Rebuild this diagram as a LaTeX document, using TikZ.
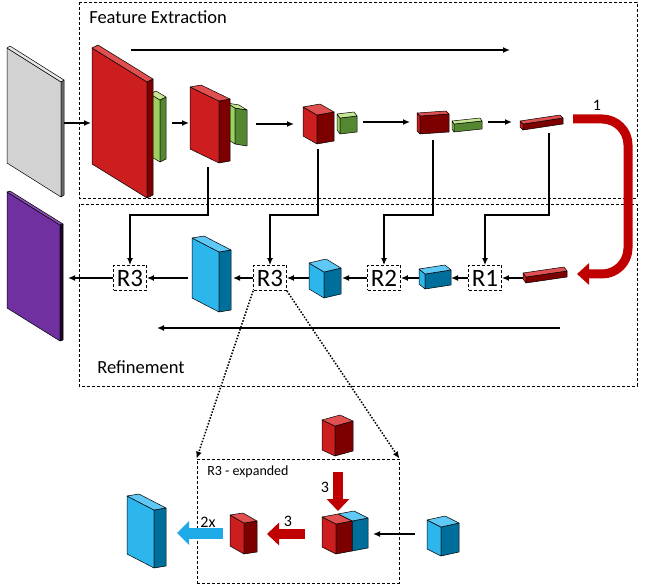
\documentclass[tikz,border=0pt]{standalone}
\usepackage{fontspec}
\setmainfont{Carlito}
\usepackage{tikz}
\usetikzlibrary{arrows.meta}

\definecolor{redb}{RGB}{204,30,30}
\definecolor{redbdk}{RGB}{125,0,0}
\definecolor{redblt}{RGB}{225,80,80}
\definecolor{grnb}{RGB}{155,210,95}
\definecolor{grnbdk}{RGB}{85,135,50}
\definecolor{grnblt}{RGB}{195,232,145}
\definecolor{blub}{RGB}{45,182,236}
\definecolor{blubdk}{RGB}{0,110,155}
\definecolor{blublt}{RGB}{95,200,245}
\definecolor{gryb}{RGB}{210,210,210}
\definecolor{grybdk}{RGB}{105,105,105}
\definecolor{gryblt}{RGB}{230,230,230}
\definecolor{purb}{RGB}{112,48,160}
\definecolor{purbdk}{RGB}{25,5,40}
\definecolor{purblt}{RGB}{140,80,185}
\definecolor{arrred}{RGB}{192,0,0}
\definecolor{arrblu}{RGB}{30,170,230}

% block: name, x, y, ux, uy, h, vx, vy, colour
\newcommand{\blk}[9]{%
  \begin{scope}[shift={(#2,#3)}]
    \filldraw[fill=#9,blkline] (0,0) -- ++(#4,#5) -- ++(0,#6) -- ++({-1*(#4)},{-1*(#5)}) -- cycle;
    \filldraw[fill=#9dk,blkline] (#4,#5) -- ++(#7,#8) -- ++(0,#6) -- ++({-1*(#7)},{-1*(#8)}) -- cycle;
    \filldraw[fill=#9lt,blkline] (0,0) -- ++(#4,#5) -- ++(#7,#8) -- ++({-1*(#4)},{-1*(#5)}) -- cycle;
    \coordinate (#1) at (0,0);
  \end{scope}}

\begin{document}
\begin{tikzpicture}[x=1pt,y=-1pt,>={Latex[length=7pt,width=6pt]},semithick]
\tikzset{blkline/.style={draw=black,line width=0.5pt,line join=round}}
\tikzset{frame/.style={draw=black,line width=0.8pt,dash pattern=on 3pt off 2pt}}
\tikzset{rbox/.style={draw=black,line width=0.8pt,dash pattern=on 3pt off 2pt,fill=white,
                      minimum width=33pt,minimum height=25pt,inner sep=0pt,font=\fontsize{25}{25}\selectfont}}
\tikzset{conn/.style={->,line width=1.5pt}}
\tikzset{fatred/.style={line width=10pt,draw=arrred,-{Triangle[length=12pt,width=22pt]}}}
\tikzset{fatblu/.style={line width=11pt,draw=arrblu,-{Triangle[length=12pt,width=23pt]}}}
\tikzset{zoomline/.style={line width=1.5pt,dash pattern=on 1.5pt off 1.6pt,-{Latex[length=7pt,width=6pt]}}}

  \useasboundingbox (0,0) rectangle (648,585);

        % frames
        \draw[frame] (79,2) rectangle (637,198);
        \draw[frame] (79,204) rectangle (637,386);
        \node[anchor=west,inner sep=3pt,font=\fontsize{18.5}{20}\selectfont] (fe) at (86,17) {Feature Extraction};
        \node[anchor=west,inner sep=3pt,font=\fontsize{18.5}{20}\selectfont] (rf) at (94,367) {Refinement};
        \node[frame,minimum width=202pt,minimum height=124pt,inner sep=0pt] (exp) at (298,521) {};
        \node[anchor=west,inner sep=3pt,font=\fontsize{14}{16}\selectfont] (rx) at (204,472) {R3 - expanded};

        % refinement units
        \node[rbox] (r3a) at (130,278) {R3};
        \node[rbox] (r3b) at (270,278) {R3};
        \node[rbox] (r2)  at (384,278) {R2};
        \node[rbox] (r1)  at (485,278) {R1};

        % feature extraction blocks
        \blk{in}{7}{48}{54}{34}{115}{3}{-2}{gryb}
        \blk{out}{7}{192}{53}{33}{116}{3}{-1}{purb}
        \blk{g1}{150}{94}{10}{6}{62}{6}{-3}{grnb}
        \blk{c1}{92}{48}{55}{34}{116}{6}{-3}{redb}
        \blk{g2}{227}{103}{8}{5}{36}{12}{2}{grnb}
        \blk{c2}{190}{87}{29}{14}{62}{11}{-2}{redb}
        \blk{c3}{303}{107}{14}{8}{29}{17}{-3}{redb}
        \blk{g3}{337}{114}{3}{4}{16}{17}{-2}{grnb}
        \blk{c4}{417}{113}{3}{3}{18}{29}{-2}{redb}
        \blk{g4}{452}{121}{2}{3}{8}{28}{-3}{grnb}
        \blk{c5}{520}{121}{3}{3}{6}{40}{-6}{redb}

        % refinement blocks
        \blk{rb}{523}{273}{3}{4}{6}{41}{-6}{redb}
        \blk{b1}{419}{269}{6}{5}{15}{26}{-4}{blub}
        \blk{b2}{309}{263}{15}{9}{26}{17}{-4}{blub}
        \blk{b3}{192}{238}{27}{14}{60}{12}{-2}{blub}

        % expanded R3 blocks
        \blk{ub}{127}{496}{27}{14}{58}{12}{-2}{blub}
        \blk{ur}{230}{515}{14}{8}{31}{13}{-2}{redb}
        \blk{cbb}{338}{514}{14}{7}{30}{16}{-3}{blub}
        \blk{cbr}{322}{517}{14}{7}{30}{16}{-3}{redb}
        \blk{ut}{322}{420}{13}{6}{30}{18}{-5}{redb}
        \blk{ui}{427}{520}{14}{7}{29}{18}{-4}{blub}

        % connector ends
        \coordinate (in-e) at (64,123);   \coordinate (c1-w) at (91,123);
        \coordinate (c1-e) at (172,123);  \coordinate (c2-w) at (189,123);
        \coordinate (c2-e) at (256,124);  \coordinate (c3-w) at (294,124);
        \coordinate (c3-e) at (363,122);  \coordinate (c4-w) at (410,122);
        \coordinate (c4-e) at (488,122);  \coordinate (c5-w) at (512,122);
        \coordinate (c2-s) at (208,167);  \coordinate (c3-s) at (318,149);
        \coordinate (c4-s) at (433,140);  \coordinate (c5-s) at (549,133);
        \coordinate (c5-e) at (573,119);  \coordinate (rb-e) at (577,274);
        \coordinate (rb-w) at (523,278);  \coordinate (b1-e) at (451,278);
        \coordinate (b1-w) at (419,278);  \coordinate (b2-e) at (342,278);
        \coordinate (b2-w) at (309,278);  \coordinate (b3-e) at (233,278);
        \coordinate (b3-w) at (188,278);  \coordinate (out-e) at (68,278);
        \coordinate (fe-s) at (131,50);   \coordinate (fe-t) at (510,50);
        \coordinate (rf-s) at (560,328);  \coordinate (rf-t) at (157,328);
        \coordinate (ui-w) at (415,534);  \coordinate (cb-e) at (373,534);
        \coordinate (ut-s) at (338,472);  \coordinate (cb-n) at (338,511);
        \coordinate (cb-w) at (305,534);  \coordinate (ur-e) at (267,534);
        \coordinate (ur-w) at (223,533);  \coordinate (ub-e) at (177,533);

        \draw[conn,line width=2pt] (fe-s) -- (fe-t);
        \draw[conn,line width=2pt] (rf-s) -- (rf-t);

        \path[conn]
        (in-e) edge (c1-w)
        (c1-e) edge (c2-w)
        (c2-e) edge (c3-w)
        (c3-e) edge (c4-w)
        (c4-e) edge (c5-w)
        (rb-w) edge (r1)
        (r1)   edge (b1-e)
        (b1-w) edge (r2)
        (r2)   edge (b2-e)
        (b2-w) edge (r3b)
        (r3b)  edge (b3-e)
        (b3-w) edge (r3a)
        (r3a)  edge (out-e)
        (ui-w) edge (cb-e)
        ; %end path

        \draw[conn] (c2-s) -- ++(0,48) -| (r3a);
        \draw[conn] (c3-s) -- ++(0,66) -| (r3b);
        \draw[conn] (c4-s) -- ++(0,75) -| (r2);
        \draw[conn] (c5-s) -- ++(0,82) -| (r1);

        \draw[line width=9pt,draw=arrred,rounded corners=26pt,-{Triangle[length=12pt,width=21pt]}]
              (c5-e) -- (628,119) -- (628,274) -- (rb-e);
        \node[font=\fontsize{16}{18}\selectfont] (l1) at (597,105) {1};

        \draw[zoomline] (r3b.south west) -- (exp.north west);
        \draw[zoomline] (r3b.south east) -- (exp.north east);

        \draw[fatred] (ut-s) -- (cb-n);
        \draw[fatred] (cb-w) -- (ur-e);
        \draw[fatblu] (ur-w) -- (ub-e);
        \node[font=\fontsize{16}{18}\selectfont] (l3a) at (325,487) {3};
        \node[font=\fontsize{16}{18}\selectfont] (l3b) at (288,521) {3};
        \node[font=\fontsize{16}{18}\selectfont] (l2x) at (208,522) {2x};

\end{tikzpicture}
\end{document}
